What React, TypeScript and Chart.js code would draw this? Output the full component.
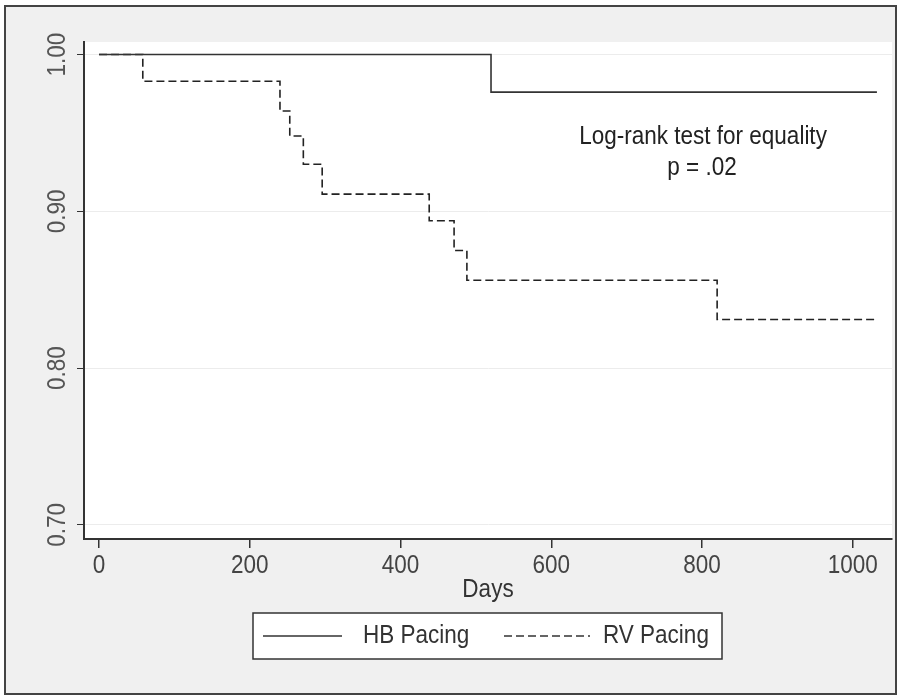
import React, { useEffect, useRef } from "react";
import { Chart, registerables } from "chart.js";

Chart.register(...registerables);

const hbDays = [0, 520, 1032];
const hbSurv = [1.0, 0.976, 0.976];
const rvDays = [0, 58, 240, 253, 271, 296, 438, 471, 488, 820, 1032];
const rvSurv = [1.0, 0.983, 0.964, 0.948, 0.93, 0.911, 0.894, 0.875, 0.856, 0.831, 0.831];
const xTicks = [0, 200, 400, 600, 800, 1000];
const yTicks = [0.7, 0.8, 0.9, 1.0];
const yTickLabels = ["0.70", "0.80", "0.90", "1.00"];
const seriesNames = ["HB Pacing", "RV Pacing"];
const xTitle = "Days";
const noteLines = ["Log-rank test for equality", "p = .02"];

const FONT = "'Liberation Sans', Arial, sans-serif";
const SQUEEZE = 0.9;

function narrowText(
  ctx: CanvasRenderingContext2D,
  text: string,
  x: number,
  y: number,
  align: CanvasTextAlign,
  rotate = 0
) {
  ctx.save();
  ctx.translate(x, y);
  if (rotate) ctx.rotate(rotate);
  ctx.scale(SQUEEZE, 1);
  ctx.textAlign = align;
  ctx.textBaseline = "middle";
  ctx.fillText(text, 0, 0);
  ctx.restore();
}

export default function App() {
  const ref = useRef<HTMLCanvasElement | null>(null);
  useEffect(() => {
    document.body.style.margin = "0";
    const canvas = ref.current!;
    const decor = {
      id: "decor",
      beforeDraw(chart: any) {
        const ctx = chart.ctx;
        const a = chart.chartArea;
        ctx.save();
        ctx.fillStyle = "#ffffff";
        ctx.fillRect(0, 0, chart.width, chart.height);
        ctx.fillStyle = "#f0f0f0";
        ctx.fillRect(5, 6, 891, 688);
        ctx.strokeStyle = "#444";
        ctx.lineWidth = 2;
        ctx.strokeRect(5, 6, 891, 688);
        ctx.fillStyle = "#ffffff";
        ctx.fillRect(a.left, a.top, a.right - a.left, a.bottom - a.top);
        ctx.restore();
      },
      afterDraw(chart: any) {
        const ctx = chart.ctx;
        const ys = chart.scales.y;
        const xs = chart.scales.x;
        const a = chart.chartArea;
        ctx.save();
        ctx.font = `25px ${FONT}`;
        // y tick labels (rotated)
        ctx.fillStyle = "#555";
        yTicks.forEach((v, i) => {
          narrowText(ctx, yTickLabels[i], 58, ys.getPixelForValue(v), "center", -Math.PI / 2);
        });
        // x tick labels
        ctx.fillStyle = "#444";
        xTicks.forEach((v) => {
          narrowText(ctx, String(v), xs.getPixelForValue(v), 566, "center");
        });
        // x title
        ctx.fillStyle = "#333";
        narrowText(ctx, xTitle, (a.left + a.right) / 2, 590, "center");
        // annotation
        ctx.fillStyle = "#222";
        const nx = xs.getPixelForValue(800);
        narrowText(ctx, noteLines[0], nx + 1, 137, "center");
        narrowText(ctx, noteLines[1], nx, 168, "center");
        // legend
        const lx = 253, ly = 613, lw = 469, lh = 46;
        ctx.fillStyle = "#fff";
        ctx.fillRect(lx, ly, lw, lh);
        ctx.strokeStyle = "#333";
        ctx.lineWidth = 1.5;
        ctx.strokeRect(lx, ly, lw, lh);
        const cy = ly + lh / 2;
        ctx.strokeStyle = "#333";
        ctx.lineWidth = 1.5;
        ctx.beginPath();
        ctx.moveTo(263, cy);
        ctx.lineTo(342, cy);
        ctx.stroke();
        ctx.setLineDash([8, 4]);
        ctx.beginPath();
        ctx.moveTo(504, cy);
        ctx.lineTo(590, cy);
        ctx.stroke();
        ctx.setLineDash([]);
        ctx.fillStyle = "#333";
        narrowText(ctx, seriesNames[0], 363, cy, "left");
        narrowText(ctx, seriesNames[1], 603, cy, "left");
        ctx.restore();
      },
    };
    const chart = new Chart(canvas, {
      type: "line",
      data: {
        datasets: [
          {
            label: seriesNames[0],
            data: hbDays.map((d, i) => ({ x: d, y: hbSurv[i] })),
            borderColor: "#333",
            borderWidth: 1.6,
            pointRadius: 0,
            stepped: "before",
            fill: false,
          },
          {
            label: seriesNames[1],
            data: rvDays.map((d, i) => ({ x: d, y: rvSurv[i] })),
            borderColor: "#222",
            borderWidth: 1.6,
            borderDash: [8, 4],
            pointRadius: 0,
            stepped: "before",
            fill: false,
          },
        ],
      },
      options: {
        animation: false,
        responsive: false,
        layout: { padding: { left: 0, right: 22, top: 42, bottom: 119 } },
        plugins: { legend: { display: false }, tooltip: { enabled: false } },
        scales: {
          x: {
            type: "linear",
            min: -20,
            max: 1052,
            afterBuildTicks: (s: any) => {
              s.ticks = xTicks.map((v) => ({ value: v }));
            },
            afterFit: (s: any) => {
              s.height = 40;
            },
            grid: {
              display: true,
              drawOnChartArea: false,
              drawTicks: true,
              tickLength: 9,
              color: "#333",
              lineWidth: 1.5,
            },
            border: { display: true, color: "#333", width: 2 },
            ticks: { display: false },
          },
          y: {
            type: "linear",
            min: 0.691,
            max: 1.008,
            afterBuildTicks: (s: any) => {
              s.ticks = yTicks.map((v) => ({ value: v }));
            },
            afterFit: (s: any) => {
              s.width = 84;
            },
            grid: {
              display: true,
              drawOnChartArea: true,
              drawTicks: true,
              tickLength: 7,
              color: "#ececec",
              tickColor: "#333",
              lineWidth: 1,
            },
            border: { display: true, color: "#333", width: 2 },
            ticks: { display: false },
          },
        },
      },
      plugins: [decor],
    });
    return () => chart.destroy();
  }, []);
  return (
    <div style={{ position: "absolute", left: 0, top: 0, width: 914, height: 698 }}>
      <canvas ref={ref} width={914} height={698} style={{ display: "block", width: 914, height: 698 }} />
    </div>
  );
}
